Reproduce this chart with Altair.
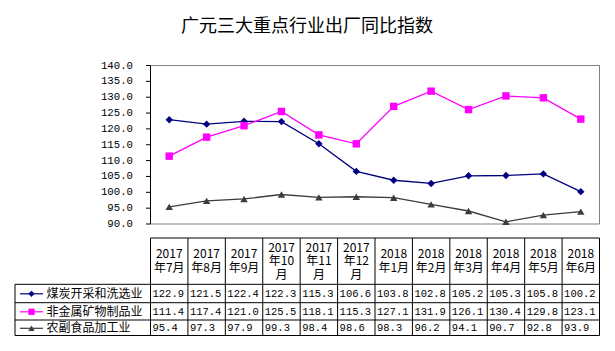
import altair as alt
import pandas as pd

# ---------------- data ----------------
title_text = "广元三大重点行业出厂同比指数"
header_lines = [
    ["2017", "年7月"], ["2017", "年8月"], ["2017", "年9月"],
    ["2017", "年10", "月"], ["2017", "年11", "月"], ["2017", "年12", "月"],
    ["2018", "年1月"], ["2018", "年2月"], ["2018", "年3月"],
    ["2018", "年4月"], ["2018", "年5月"], ["2018", "年6月"],
]
series_names = ["煤炭开采和洗选业", "非金属矿物制品业", "农副食品加工业"]
coal = [122.9, 121.5, 122.4, 122.3, 115.3, 106.6, 103.8, 102.8, 105.2, 105.3, 105.8, 100.2]
nonmetal = [111.4, 117.4, 121.0, 125.5, 118.1, 115.3, 127.1, 131.9, 126.1, 130.4, 129.8, 123.1]
agri = [95.4, 97.3, 97.9, 99.3, 98.4, 98.6, 98.3, 96.2, 94.1, 90.7, 92.8, 93.9]
y_ticks = [90, 95, 100, 105, 110, 115, 120, 125, 130, 135, 140]

colors = ["#000080", "#FF00FF", "#3c3c3c"]
shapes = ["diamond", "square", "triangle-up"]

# ---------------- layout ----------------
W, H = 615, 351
PL, PR, PT, PB = 150.5, 599.5, 65.5, 224.0
COLW = (PR - PL) / 12
XD0 = -0.5 - PL / COLW
XD1 = XD0 + W / COLW
PPU = (PB - PT) / 50.0
YD0 = 90 - (H - PB) / PPU
YD1 = 140 + PT / PPU
LEG_L = XD0 + 15 / COLW

TAB_TOP, HEAD_BOT = 238.0, 284.3
ROW_LINES = [284.3, 302.7, 320.0, 335.5]
ROW_CENTERS = [293.8, 311.8, 328.3]
LH = 13.5

xs = alt.Scale(domain=[XD0, XD1], range=[0, W], nice=False, zero=False)
ys_val = alt.Scale(domain=[YD0, YD1], range=[H, 0], nice=False, zero=False)
ys_px = alt.Scale(domain=[0, H], range=[0, H], nice=False, zero=False)
color_scale = alt.Scale(domain=series_names, range=colors)
shape_scale = alt.Scale(domain=series_names, range=shapes)

# ---------------- tables ----------------
rows = []
for s, vals in zip(series_names, [coal, nonmetal, agri]):
    for i, v in enumerate(vals):
        rows.append({"xi": i, "val": v, "series": s})
df = pd.DataFrame(rows)

ROW_C = dict(zip(series_names, ROW_CENTERS))
df["py"] = df["series"].map(ROW_C)
df["xl"] = df["xi"] - 0.5
df["label"] = df["val"].map(lambda v: f"{v:.1f}")

df_ticks = pd.DataFrame({"val": y_ticks})
df_frame = pd.DataFrame({"x1": [-0.5], "x2": [11.5], "y1": [90], "y2": [140]})

grid = []
for k in range(13):
    grid.append({"x1": k - 0.5, "x2": k - 0.5, "y1": TAB_TOP, "y2": ROW_LINES[-1]})
grid.append({"x1": LEG_L, "x2": LEG_L, "y1": HEAD_BOT, "y2": ROW_LINES[-1]})
grid.append({"x1": -0.5, "x2": 11.5, "y1": TAB_TOP, "y2": TAB_TOP})
for yl in ROW_LINES:
    grid.append({"x1": LEG_L, "x2": 11.5, "y1": yl, "y2": yl})
df_grid = pd.DataFrame(grid)

head_center = (TAB_TOP + HEAD_BOT) / 2
df_head = pd.DataFrame({
    "xi": list(range(12)),
    "lines": header_lines,
    "py": [head_center - (len(l) - 1) / 2 * LH for l in header_lines],
})
df_leg = pd.DataFrame({"series": series_names, "py": ROW_CENTERS})
df_title = pd.DataFrame({"t": [title_text]})

# ---------------- layers ----------------
X = lambda f: alt.X(f, type="quantitative", scale=xs, axis=None)
Yv = lambda f: alt.Y(f, type="quantitative", scale=ys_val, axis=None)
Yp = lambda f: alt.Y(f, type="quantitative", scale=ys_px, axis=None)
col = alt.Color("series:N", scale=color_scale, legend=None)
shp = alt.Shape("series:N", scale=shape_scale, legend=None)

frame = alt.Chart(df_frame).mark_rect(fill=None, stroke="#808080", strokeWidth=1).encode(
    x=X("x1"), x2="x2", y=Yv("y1"), y2="y2")
axis_line = alt.Chart(df_frame).mark_rule(color="#000000", strokeWidth=1).encode(
    x=X("x1"), y=Yv("y1"), y2="y2")
tick_marks = alt.Chart(df_ticks).mark_rule(color="#000000", strokeWidth=1).encode(
    x=alt.value(146), x2=alt.value(PL), y=Yv("val"))
tick_labels = alt.Chart(df_ticks).mark_text(
    align="right", baseline="middle", font="Liberation Mono", fontSize=10.7, color="#000000"
).encode(x=alt.value(133), y=Yv("val"), text=alt.Text("val:Q", format=".1f"))

lines = alt.Chart(df).mark_line(strokeWidth=1.3).encode(
    x=X("xi"), y=Yv("val"), color=col, detail="series:N")
points = alt.Chart(df).mark_point(filled=True, opacity=1, size=55).encode(
    x=X("xi"), y=Yv("val"), color=col, shape=shp)

grid_rules = alt.Chart(df_grid).mark_rule(color="#000000", strokeWidth=1).encode(
    x=X("x1"), x2="x2", y=Yp("y1"), y2="y2")
head_text = alt.Chart(df_head).mark_text(
    align="center", baseline="middle", font="Noto Sans CJK SC", fontSize=12,
    lineHeight=LH, color="#000000"
).encode(x=X("xi"), y=Yp("py"), text="lines")
num_text = alt.Chart(df).mark_text(
    align="left", baseline="middle", dx=2, font="Liberation Mono", fontSize=10.5, color="#000000"
).encode(x=X("xl"), y=Yp("py"), text="label:N")

leg_lines = alt.Chart(df_leg).mark_rule(strokeWidth=1.2).encode(
    x=alt.value(20), x2=alt.value(43), y=Yp("py"), color=col)
leg_pts = alt.Chart(df_leg).mark_point(filled=True, opacity=1, size=40).encode(
    x=alt.value(31.5), y=Yp("py"), color=col, shape=shp)
leg_text = alt.Chart(df_leg).mark_text(
    align="left", baseline="middle", font="Noto Sans CJK SC", fontSize=12, color="#000000"
).encode(x=alt.value(46.5), y=Yp("py"), text="series:N")

title = alt.Chart(df_title).mark_text(
    align="center", baseline="middle", font="Noto Sans CJK SC", fontSize=18, color="#000000"
).encode(x=alt.value(307), y=alt.value(27), text="t:N")

chart = alt.layer(
    frame, axis_line, tick_marks, tick_labels, lines, points,
    grid_rules, head_text, num_text, leg_lines, leg_pts, leg_text, title
).resolve_scale(y="independent").properties(
    width=W, height=H, padding=0,
    autosize=alt.AutoSizeParams(type="none"),
    background="#ffffff",
).configure_view(stroke=None)

chart.save("out.html", embed_options={"renderer": "svg", "actions": False})
